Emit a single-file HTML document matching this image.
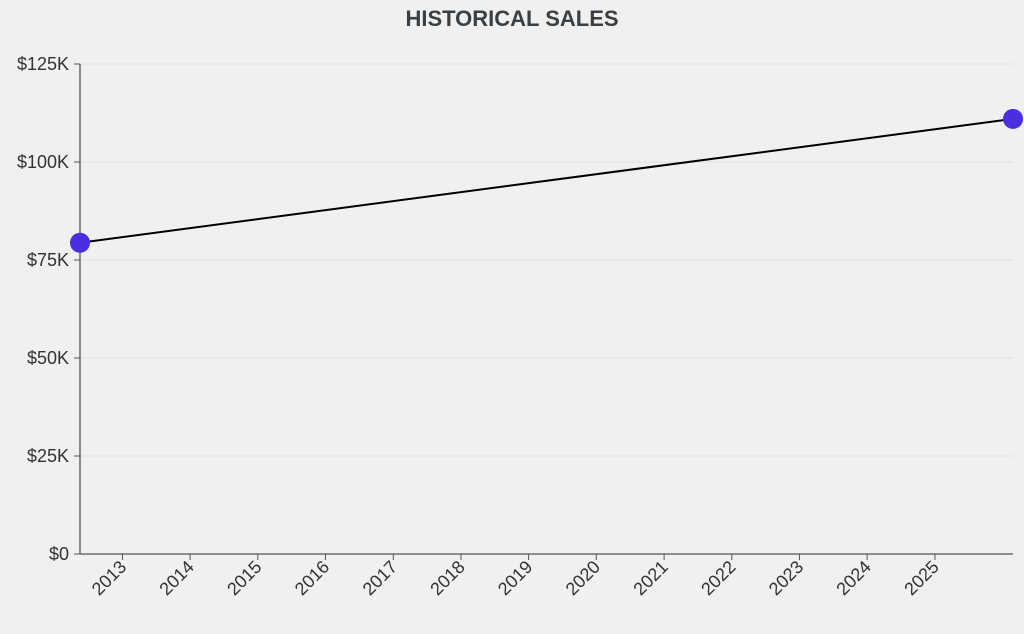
<!DOCTYPE html>
<html><head><meta charset="utf-8"><style>
body{margin:0;background:#f0f0f0;font-family:"Liberation Sans",sans-serif;}
svg{display:block}
</style></head><body>
<svg id="chart" width="1024" height="634">
<text x="512" y="26" text-anchor="middle" font-size="22" font-weight="bold" fill="#3a3f44">HISTORICAL SALES</text>
<g id="grid"></g><g id="axes"></g><g id="marks"></g>
</svg>
<script>
const dates=['2012-05-17','2026-02-26'];
const sales=[79400,111000];
const yTicks=[0,25000,50000,75000,100000,125000];
const yTickLabels=['$0','$25K','$50K','$75K','$100K','$125K'];
const xTickYears=[2013,2014,2015,2016,2017,2018,2019,2020,2021,2022,2023,2024,2025];
const NS='http://www.w3.org/2000/svg';
const L=80,R=1013,T=64,B=554;
const t0=Date.parse(dates[0]),t1=Date.parse(dates[dates.length-1]);
const x=d=>L+(Date.parse(d)-t0)/(t1-t0)*(R-L);
const y=v=>B-v/125000*(B-T);
function mk(tag,attrs,parent){const e=document.createElementNS(NS,tag);for(const k in attrs)e.setAttribute(k,attrs[k]);parent.appendChild(e);return e;}
const grid=document.getElementById('grid'),axes=document.getElementById('axes'),marks=document.getElementById('marks');
yTicks.forEach((v,i)=>{
  const g=mk('line',{x1:L,x2:R,y1:y(v),y2:y(v),stroke:'#e0e0e0','stroke-width':1},grid);
  
  
  mk('line',{x1:L-6,x2:L,y1:y(v),y2:y(v),stroke:'#555'},axes);
  const t=mk('text',{x:L-11,y:y(v)+6,'text-anchor':'end','font-size':18,fill:'#333'},axes);
  t.textContent=yTickLabels[i];
  
  
});
const ya=mk('line',{x1:L,x2:L,y1:T,y2:B,stroke:'#555','stroke-width':1.3},axes);


const xa=mk('line',{x1:L,x2:R,y1:B,y2:B,stroke:'#555','stroke-width':1.3},axes);


xTickYears.forEach(yr=>{
  const px=x(yr+'-01-01');
  mk('line',{x1:px,x2:px,y1:B,y2:B+6,stroke:'#555'},axes);
  const t=mk('text',{x:px+5,y:B+14,'text-anchor':'end','font-size':18,fill:'#333',transform:`rotate(-45 ${px+5} ${B+14})`},axes);
  t.textContent=yr;
  
  
});
const pts=dates.map((d,i)=>x(d)+','+y(sales[i])).join(' ');
const line=mk('polyline',{points:pts,fill:'none',stroke:'#000','stroke-width':2},marks);


dates.forEach((d,i)=>{
  const c=mk('circle',{cx:x(d),cy:y(sales[i]),r:10,fill:'#4a2fe0'},marks);
  
  
});
</script>
</body></html>
